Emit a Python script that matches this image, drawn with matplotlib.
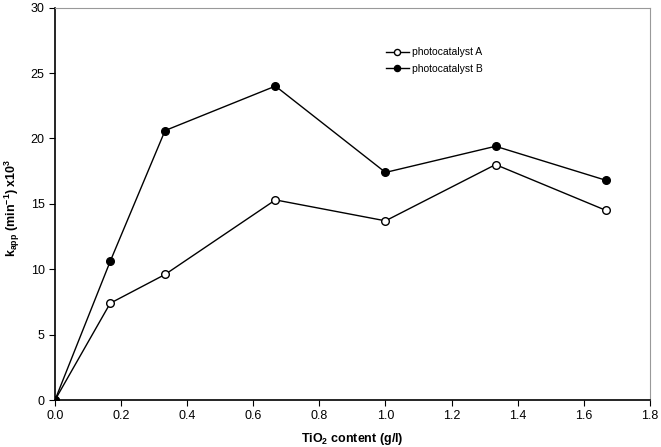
import matplotlib
matplotlib.use("Agg")
import matplotlib.pyplot as plt

# TiO2 content (g/l)
tio2 = [0.0, 0.167, 0.333, 0.667, 1.0, 1.333, 1.667]
# k_app x10^3 (min^-1)
cat_a = [0.0, 7.4, 9.6, 15.3, 13.7, 18.0, 14.5]
cat_b = [0.0, 10.6, 20.6, 24.0, 17.4, 19.4, 16.8]

plt.rcParams["font.family"] = ["Liberation Sans", "DejaVu Sans"]
plt.rcParams["mathtext.fontset"] = "custom"
plt.rcParams["mathtext.rm"] = "Liberation Sans:bold"
plt.rcParams["mathtext.default"] = "rm"

fig = plt.figure(figsize=(6.61, 4.47), dpi=100)
ax = fig.add_axes([0.0832, 0.105, 0.9, 0.878])

ax.plot(tio2, cat_a, color="black", lw=1, marker="o", ms=5.5,
        mfc="white", mec="black", mew=1, label="photocatalyst A", zorder=3)
ax.plot(tio2, cat_b, color="black", lw=1, marker="o", ms=5.5,
        mfc="black", mec="black", label="photocatalyst B", zorder=3)

ax.set_xlim(0, 1.8)
ax.set_ylim(0, 30)
ax.set_xticks([0.0, 0.2, 0.4, 0.6, 0.8, 1.0, 1.2, 1.4, 1.6, 1.8])
ax.set_yticks([0, 5, 10, 15, 20, 25, 30])
ax.set_xticklabels([f"{v:.1f}" for v in ax.get_xticks()])
ax.tick_params(direction="out", length=4, labelsize=9, colors="black")

for s in ["top", "right"]:
    ax.spines[s].set_color("#999999")
ax.spines["left"].set_linewidth(1.2)
ax.spines["bottom"].set_linewidth(1.2)

ax.set_xlabel("TiO$_2$ content (g/l)", fontsize=9, fontweight="bold", labelpad=6)
ax.set_ylabel("k$_{app}$ (min$^{-1}$) x10$^{3}$", fontsize=9, fontweight="bold")
ax.yaxis.set_label_coords(-0.055, 0.49)

ax.legend(loc="center left", bbox_to_anchor=(0.54, 0.865), frameon=False,
          fontsize=7.5, handlelength=2.2, handletextpad=0.3, labelspacing=0.6,
          markerscale=0.8)

fig.savefig("out.png", dpi=100)
